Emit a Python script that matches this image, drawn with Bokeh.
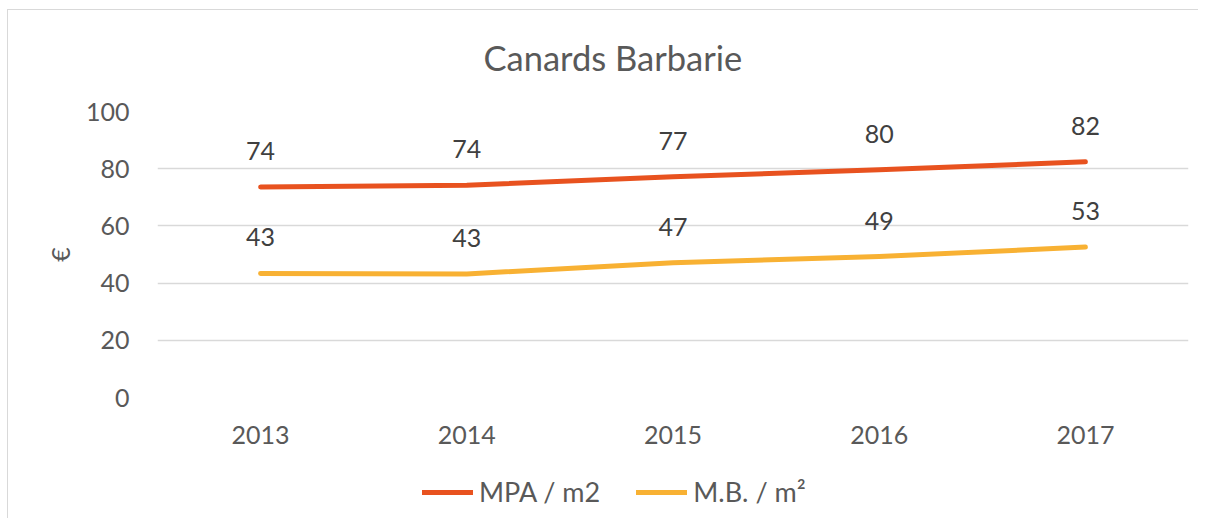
from bokeh.plotting import figure
from bokeh.layouts import column
from bokeh.models import (ColumnDataSource, FactorRange, Range1d, FixedTicker,
                          LabelSet, Legend, LegendItem)
from bokeh.core.properties import value
from bokeh.embed import file_html
from bokeh.resources import INLINE

years = ["2013", "2014", "2015", "2016", "2017"]
mpa = [73.6, 74.2, 77.2, 79.6, 82.4]
mb = [43.4, 43.2, 47.1, 49.3, 52.6]
series_names = ["MPA / m2", "M.B. / m²"]
y_ticks = [0, 20, 40, 60, 80, 100]
title_text = "Canards Barbarie"
y_label = "€"

FONT = "Lato"
GREY = "#595959"
C_MPA = "#E8521F"
C_MB = "#F8B133"
BORDER = "#D9D9D9"

src = ColumnDataSource(dict(
    x=years, mpa=mpa, mb=mb,
    mpa_lbl=[str(round(v)) for v in mpa],
    mb_lbl=[str(round(v)) for v in mb],
))

# ---- main chart -------------------------------------------------------------
p = figure(x_range=FactorRange(*years), y_range=Range1d(0, 100),
           width=1198, height=458, output_backend="svg", toolbar_location=None,
           min_border_left=157, min_border_right=10, min_border_top=110, min_border_bottom=61)
p.border_fill_color = None
p.styles = {"background":
            f"linear-gradient({BORDER},{BORDER}) 7px 9px / 1px 100% no-repeat, "
            f"linear-gradient({BORDER},{BORDER}) 7px 9px / 100% 1px no-repeat, white"}
p.outline_line_color = None
p.background_fill_color = "white"

p.line("x", "mpa", source=src, line_color=C_MPA, line_width=5, line_cap="round", line_join="round")
p.line("x", "mb", source=src, line_color=C_MB, line_width=5, line_cap="round", line_join="round")

for col, lbl in (("mpa", "mpa_lbl"), ("mb", "mb_lbl")):
    p.add_layout(LabelSet(x="x", y=col, text=lbl, source=src, y_offset=36,
                          text_align="center", text_baseline="middle",
                          text_font=value(FONT), text_font_size=value("25px"),
                          text_color=value("#404040")))

p.xgrid.grid_line_color = None
p.ygrid.grid_line_color = BORDER
p.ygrid.grid_line_width = 1.3
p.yaxis.ticker = FixedTicker(ticks=y_ticks)

for ax in (p.xaxis[0], p.yaxis[0]):
    ax.axis_line_color = None
    ax.major_tick_line_color = None
    ax.minor_tick_line_color = None
    ax.major_label_text_font = FONT
    ax.major_label_text_font_size = "25px"
    ax.major_label_text_color = GREY
p.yaxis.major_label_standoff = 22
p.xaxis.major_label_standoff = 22
p.yaxis.axis_label = y_label
p.yaxis.axis_label_text_font = FONT
p.yaxis.axis_label_text_font_size = "25px"
p.yaxis.axis_label_text_font_style = "normal"
p.yaxis.axis_label_text_color = GREY
p.yaxis.axis_label_standoff = 8

p.title.text = title_text
p.title.align = "left"
p.title.offset = 326
p.title.standoff = 68
p.title.text_font = FONT
p.title.text_font_size = "34.5px"
p.title.text_font_style = "normal"
p.title.text_color = GREY

# ---- legend strip ------------------------------------------------------------
lf = figure(x_range=FactorRange(*years), y_range=Range1d(1000, 1001),
            width=1198, height=60, output_backend="svg", toolbar_location=None,
            x_axis_location=None, y_axis_location=None,
            min_border_left=0, min_border_right=0, min_border_top=0, min_border_bottom=0)
lf.grid.grid_line_color = None
lf.outline_line_color = None
lf.background_fill_color = None
lf.border_fill_color = None
lf.styles = {"background":
             f"linear-gradient({BORDER},{BORDER}) 7px 0px / 1px 100% no-repeat, white"}
l1 = lf.line("x", "mpa", source=src, line_color=C_MPA, line_width=5, line_cap="round")
l2 = lf.line("x", "mb", source=src, line_color=C_MB, line_width=5, line_cap="round")

legend = Legend(items=[LegendItem(label=series_names[0], renderers=[l1]),
                       LegendItem(label=series_names[1], renderers=[l2])],
                location=(265, 10), orientation="horizontal",
                glyph_width=51, glyph_height=30, label_height=30,
                label_standoff=6, spacing=36, padding=0, margin=0,
                border_line_color=None, background_fill_alpha=0,
                label_text_font=FONT, label_text_font_size="27px", label_text_color=GREY)
lf.add_layout(legend)

layout = column(p, lf, spacing=0)
open("out.html", "w").write(file_html(layout, INLINE))
